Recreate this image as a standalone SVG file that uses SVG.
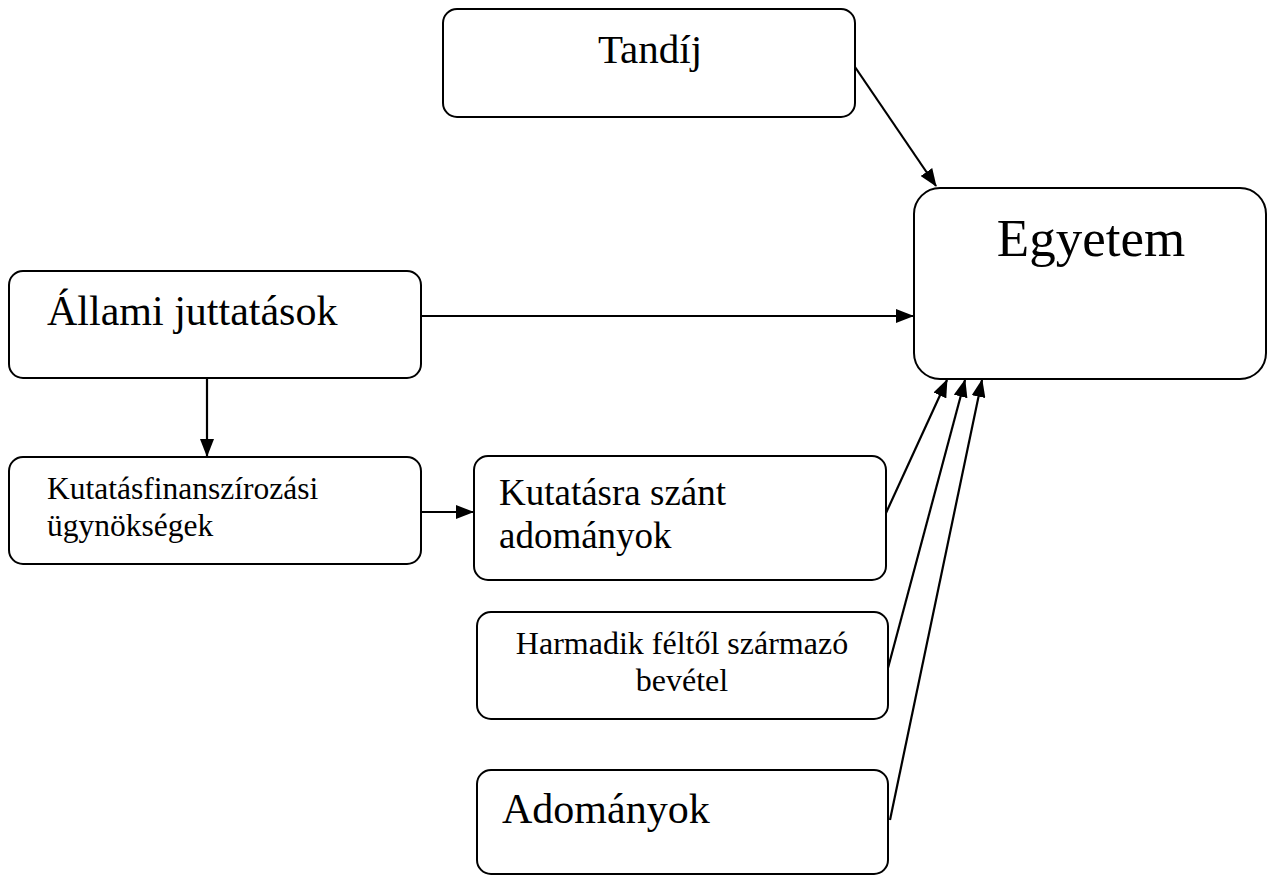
<svg xmlns="http://www.w3.org/2000/svg" width="1271" height="876" viewBox="0 0 1271 876">
<style>
.box{fill:#fff;stroke:#000;stroke-width:2}
.t{font-family:"Liberation Serif","Times New Roman",serif;fill:#000}
.c{stroke:#000;stroke-width:2.2;fill:none}
</style>
<defs>
<marker id="ah" markerUnits="userSpaceOnUse" markerWidth="18" markerHeight="14" refX="17" refY="7" orient="auto">
<path d="M0,0 L18,7 L0,14 Z" fill="#000"/>
</marker>
</defs>
<rect width="1271" height="876" fill="#fff"/>
<g id="connectors">
<line class="c" x1="855" y1="67" x2="936" y2="186" marker-end="url(#ah)"/>
<line class="c" x1="421" y1="316" x2="913" y2="316" marker-end="url(#ah)"/>
<line class="c" x1="207" y1="378" x2="207" y2="456" marker-end="url(#ah)"/>
<line class="c" x1="421" y1="512" x2="473" y2="512" marker-end="url(#ah)"/>
<line class="c" x1="886" y1="513" x2="947" y2="380" marker-end="url(#ah)"/>
<line class="c" x1="888" y1="668" x2="965" y2="380" marker-end="url(#ah)"/>
<line class="c" x1="890" y1="820" x2="982" y2="380" marker-end="url(#ah)"/>
</g>
<g id="tandij">
<rect class="box" x="443" y="9" width="412" height="108" rx="14"/>
<text class="t" x="650" y="63" font-size="41" text-anchor="middle">Tandíj</text>
</g>
<g id="egyetem">
<rect class="box" x="914" y="188" width="352" height="191" rx="26"/>
<text class="t" x="1091" y="256" font-size="53" text-anchor="middle">Egyetem</text>
</g>
<g id="allami">
<rect class="box" x="9" y="271" width="412" height="107" rx="14"/>
<text class="t" x="47" y="325" font-size="42">Állami juttatások</text>
</g>
<g id="kutatasfin">
<rect class="box" x="9" y="457" width="412" height="107" rx="14"/>
<text class="t" x="47" y="499" font-size="31.5">Kutatásfinanszírozási</text>
<text class="t" x="47" y="536" font-size="31.5">ügynökségek</text>
</g>
<g id="kutatasra">
<rect class="box" x="474" y="456" width="412" height="124" rx="14"/>
<text class="t" x="499" y="505" font-size="37">Kutatásra szánt</text>
<text class="t" x="499" y="548" font-size="37">adományok</text>
</g>
<g id="harmadik">
<rect class="box" x="477" y="612" width="411" height="107" rx="14"/>
<text class="t" x="682" y="654" font-size="32" text-anchor="middle">Harmadik féltől származó</text>
<text class="t" x="682" y="691" font-size="32" text-anchor="middle">bevétel</text>
</g>
<g id="adomanyok">
<rect class="box" x="477" y="770" width="411" height="104" rx="14"/>
<text class="t" x="502" y="823" font-size="42">Adományok</text>
</g>
</svg>
